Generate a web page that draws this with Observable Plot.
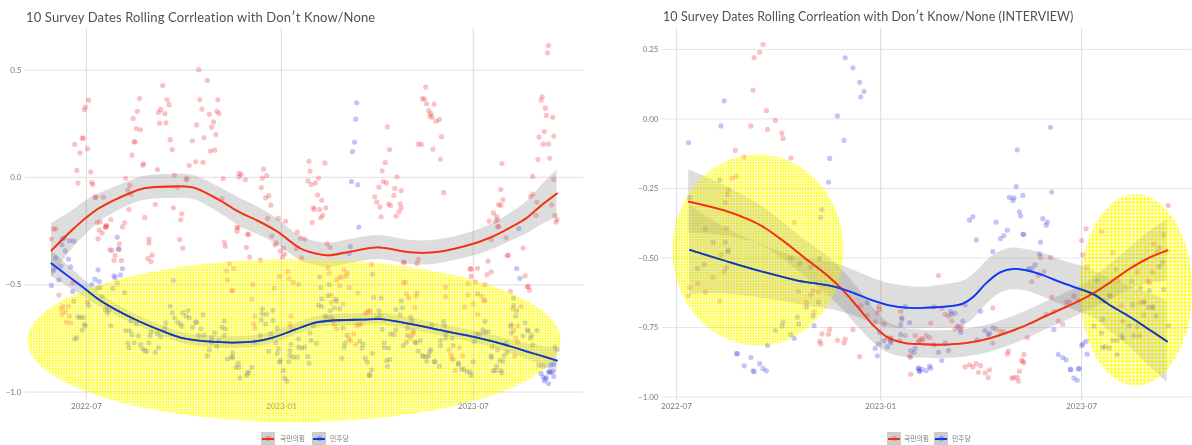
<!DOCTYPE html>
<html><head><meta charset="utf-8">
<script src="https://cdn.jsdelivr.net/npm/d3@7"></script>
<script src="https://cdn.jsdelivr.net/npm/@observablehq/plot@0.6"></script>
<style>
html,body{margin:0;padding:0;background:#fff;width:1192px;height:445px;overflow:hidden}
.panel{position:absolute;top:0}
.title{position:absolute;top:9px;font:400 13px Lato,"Noto Sans",sans-serif;color:#505050;white-space:nowrap;letter-spacing:.15px}
.title.r{font-size:12.5px;letter-spacing:.08px}
.sw{position:absolute;top:432px;width:14px;height:13px;background:#ccc}
.sw i{position:absolute;left:1px;right:1px;top:5.5px;height:2px}
.sw b{position:absolute;left:4.5px;top:4px;width:5px;height:5px;border-radius:50%;opacity:.35}
.lab{position:absolute;top:432px;font:6.8px "Noto Sans CJK KR",sans-serif;color:#777;line-height:13px}
</style></head><body>
<div id="left" class="panel" style="left:0"></div>
<div id="right" class="panel" style="left:596px"></div>
<script>
// Days since 2022-07-01, correlation
const leftRedPoints=[[-11,.154],[-4,.183],[-3,.183],[-6,.115],[1,.134],[-9,.033],[4,.025],[-8,-.026],[5,-.023],[6,-.033],[8,-.092],[9,-.092],[16,-.092],[2,.36],[-1,.328],[-2,.315],[10,-.21],[13,-.207],[19,-.222],[18,-.231],[23,-.196],[36,-.211],[34,-.231],[40,-.149],[55,-.186],[37,-.003],[41,-.037],[39,-.06],[42,-.078],[43,.104],[45,.166],[46,.166],[53,.057],[54,.064],[47,.228],[51,.222],[44,.275],[48,.308],[50,.368],[67,.037],[65,-.126],[82,-.141],[90,-.169],[89,-.197],[68,.303],[70,.317],[74,.297],[69,.253],[75,.255],[72,.429],[76,.362],[78,.339],[79,.176],[81,.13],[83,.011],[86,-.045],[94,-.009],[95,-.006],[97,.056],[100,.171],[103,.073],[110,.071],[104,.245],[106,.502],[107,.363],[109,.318],[114,.452],[111,.186],[116,.295],[118,.235],[120,.259],[122,.2],[117,.123],[121,.127],[123,.308],[124,.362],[125,.298],[129,-.005],[128,-.098],[142,-.233],[144,.002],[144,.019],[146,.014],[150,-.011],[167,.039],[170,.009],[166,-.003],[165,-.047],[169,-.095],[172,-.085],[174,-.129],[171,-.191],[181,-.191],[188,-.203],
[210,.075],[211,.03],[209,-.016],[212,-.033],[216,-.026],[219,-.003],[225,.068],[218,-.082],[222,-.106],[214,-.141],[215,-.149],[220,-.149],[226,-.141],[223,-.176],[221,-.188],[213,-.21],[284,.236],[286,.13],[282,.07],[279,.031],[293,.003],[280,-.019],[283,-.025],[276,-.045],[291,-.051],[297,-.061],[290,-.084],[272,-.09],[274,-.115],[277,-.137],[285,-.124],[287,-.13],[296,-.123],[297,-.141],[295,-.16],[292,-.18],[278,-.183],[320,.421],[317,.367],[319,.365],[321,.343],[328,.342],[323,.311],[325,.298],[324,.286],[326,.281],[330,.262],[333,.27],[335,.19],[313,.155],[316,.154],[327,.132],[334,.085],[337,-.071],[392,.065],[391,-.056],[393,-.104],[389,-.126],[391,-.13],[384,-.165],[387,-.182],[388,-.196],[386,-.203],[380,-.203],[389,-.228],[436,.615],[435,.581],[430,.376],[429,.36],[433,.323],[434,.289],[440,.28],[432,.214],[427,.188],[441,.193],[431,.155],[436,.155],[437,.089],[426,.084],[421,.005],[441,-.009],[421,-.078],[419,-.089],[425,-.115],[439,-.127],[424,-.176],[442,-.177],[444,-.196],[443,-.208],
[-31,-.241],[-29,-.239],[-33,-.287],[12,-.245],[15,-.259],[11,-.286],[18,-.231],[19,-.228],[22,-.337],[24,-.34],[27,-.364],[26,-.387],[31,-.309],[31,-.335],[33,-.387],[59,-.287],[59,-.306],[62,-.362],[58,-.378],[61,-.392],[88,-.289],[91,-.329],[130,-.301],[131,-.32],[151,-.326],[142,-.25],[143,-.233],[152,-.264],[153,-.266],[154,-.371],[164,-.385],[175,-.273],[178,-.314],[179,-.306],[186,-.329],[183,-.343],[187,-.357],[185,-.371],[198,-.332],[199,-.255],[-13,-.491],[29,-.492],[-26,-.548],[135,-.402],[132,-.435],[139,-.424],[133,-.477],[137,-.527],[138,-.527],[157,-.499],[177,-.516],[156,-.567],[182,-.461],[190,-.44],[191,-.472],[195,-.489],[200,-.499],[-24,-.612],[-22,-.6],[-17,-.6],[-20,-.624],[-23,-.637],[-16,-.646],[-19,-.674],[-15,-.677],[159,-.646],[158,-.682],[159,-.702],[193,-.646],[192,-.682],[193,-.698],
[206,-.287],[203,-.374],[202,-.283],[227,-.309],[230,-.326],[299,-.395],[300,-.395],[313,-.382],[312,-.401],[382,-.289],[396,-.281],[388,-.23],[362,-.426],[363,-.426],[369,-.423],[379,-.39],[382,-.44],[378,-.453],[363,-.461],[397,-.363],[398,-.363],[412,-.329],[414,-.458],[416,-.508],[417,-.508],[418,-.525],[400,-.53],[360,-.493],[367,-.488],[376,-.5],[339,-.511],[360,-.547],[339,-.555],[373,-.553],[375,-.573],[376,-.573],[357,-.603],[365,-.589],[369,-.637],[402,-.612],[410,-.601],[407,-.691],[403,-.71],[405,-.747],[407,-.767],[404,-.831],[228,-.421],[229,-.445],[243,-.43],[246,-.445],[245,-.46],[241,-.464],[239,-.466],[236,-.477],[239,-.505],[248,-.513],[231,-.548],[256,-.538],[231,-.583],[242,-.59],[269,-.406],[299,-.491],[301,-.488],[302,-.542],[304,-.56],[311,-.553],[312,-.538],[310,-.606],[263,-.634],[266,-.62],[268,-.623],[265,-.627],[233,-.667],[234,-.685],[236,-.705],[255,-.69],[257,-.686],[259,-.684],[252,-.728],[248,-.752],[249,-.761],[254,-.777],[308,-.713],[309,-.724],[307,-.732],[306,-.749],[342,-.803],[344,-.825],[345,-.842],[346,-.848],[348,-.898],[352,-.792],[355,-.83]];
const leftBluePoints=[[255,.348],[254,.272],[253,.165],[251,.12],[250,-.019],[256,-.034],[257,-.231],[408,-.238],[-23,-.314],[-21,-.282],[-23,-.286],[-16,-.295],[-12,-.297],[-20,-.342],[-17,-.38],[-29,-.374],[-24,-.413],[-15,-.416],[-31,-.432],[-26,-.478],[-33,-.503],[-13,-.531],[29,-.278],[30,-.333],[11,-.43],[34,-.424],[32,-.454],[26,-.458],[27,-.467],[8,-.474],[12,-.485],[5,-.499],[10,-.517],[13,-.513],[25,-.517],[36,-.536],[82,-.48],[15,-.555],[-12,-.576],[1,-.581],[2,-.597],[20,-.601],[18,-.617],[21,-.62],[20,-.632],[-8,-.649],[-6,-.652],[-3,-.652],[-2,-.685],[-1,-.69],[-4,-.71],[-9,-.747],[-11,-.752],[23,-.691],[42,-.669],[47,-.682],[37,-.713],[41,-.714],[43,-.733],[49,-.738],[39,-.772],[40,-.792],[45,-.77],[51,-.779],[53,-.798],[55,-.807],[57,-.81],[59,-.77],[65,-.815],[68,-.792],[61,-.72],[60,-.738],[67,-.728],[70,-.742],[74,-.702],[75,-.677],[79,-.6],[81,-.629],[83,-.654],[86,-.674],[89,-.682],[90,-.693],[91,-.63],[96,-.62],[94,-.646],[97,-.654],[100,-.698],[103,-.674],[104,-.674],[110,-.639],[108,-.705],[111,-.736],[106,-.736],[118,-.747],[121,-.724],[128,-.698],[131,-.705],[130,-.669],[130,-.736],[125,-.76],[123,-.786],[118,-.767],[116,-.803],[114,-.83],[133,-.845],[137,-.837],[138,-.817],[138,-.837],[143,-.865],[141,-.884],[144,-.884],[145,-.934],[151,-.923],[152,-.912],[153,-.907],[156,-.884],[159,-.767],[164,-.736],[174,-.728],[166,-.612],[166,-.635],[170,-.637],[165,-.663],[169,-.682],[176,-.62],[176,-.666],[180,-.702],[179,-.77],[181,-.798],[180,-.819],[172,-.81],[183,-.853],[182,-.861],[186,-.899],[187,-.934],[189,-.949],[191,-.858],[193,-.778],[192,-.806],[192,-.83],[195,-.837],[199,-.837],[200,-.752],[200,-.79],
[249,-.322],[248,-.354],[406,-.424],[409,-.47],[220,-.463],[221,-.513],[229,-.499],[222,-.565],[228,-.55],[235,-.567],[236,-.576],[219,-.595],[222,-.601],[234,-.607],[239,-.612],[230,-.621],[225,-.646],[227,-.652],[231,-.652],[214,-.69],[211,-.724],[212,-.76],[217,-.772],[206,-.79],[203,-.795],[209,-.834],[210,-.865],[242,-.701],[246,-.736],[244,-.772],[243,-.79],[258,-.763],[261,-.777],[260,-.795],[270,-.819],[241,-.842],[263,-.842],[265,-.86],[269,-.896],[267,-.92],[267,-.921],[270,-.45],[271,-.558],[278,-.561],[276,-.62],[277,-.643],[274,-.655],[279,-.708],[281,-.77],[281,-.792],[285,-.795],[283,-.853],[284,-.88],[286,-.848],[287,-.728],[290,-.732],[292,-.71],[292,-.615],[296,-.64],[298,-.607],[297,-.575],[303,-.702],[306,-.651],[307,-.667],[303,-.736],[302,-.767],[299,-.783],[310,-.767],[311,-.77],[315,-.76],[313,-.808],[317,-.83],[318,-.834],[321,-.834],[323,-.83],[324,-.811],[325,-.802],[321,-.856],[328,-.858],[329,-.858],[333,-.88],[334,-.783],[334,-.76],[339,-.749],[345,-.749],[346,-.783],[337,-.67],[338,-.69],[326,-.687],[339,-.729],[351,-.865],[351,-.871],[354,-.893],[356,-.893],[359,-.904],[362,-.907],[363,-.922],[365,-.859],[366,-.765],[368,-.729],[371,-.73],[374,-.71],[376,-.722],[379,-.718],[376,-.67],[369,-.542],[403,-.562],[406,-.621],[405,-.646],[403,-.597],[401,-.685],[400,-.693],[401,-.725],[382,-.83],[382,-.839],[383,-.789],[388,-.803],[390,-.853],[393,-.856],[387,-.879],[384,-.9],[386,-.9],[391,-.9],[392,-.91],[394,-.83],[396,-.77],[397,-.814],[414,-.677],[416,-.71],[417,-.715],[412,-.739],[419,-.749],[420,-.736],[425,-.713],[421,-.781],[427,-.876],[431,-.879],[429,-.913],[431,-.93],[433,-.938],[434,-.934],[432,-.948],[436,-.96],[437,-.904],[436,-.907],[438,-.909],[440,-.904],[441,-.927],[438,-.873],[441,-.87],[442,-.79],[444,-.802]];
const rightRedPoints=[[78,.268],[75,.24],[70,.221],[69,.103],[81,.03],[89,-.005],[67,-.025],[82,-.037],[95,-.051],[96,-.07],[53,-.113],[61,-.137],[103,-.14],[54,-.207],[50,-.213],[47,-.254],[46,-.272],[44,-.3],[45,-.393],[106,-.372],[40,-.488],[33,-.569],[43,-.549],[12,-.606],[19,-.592],[26,-.623],[11,-.635],[39,-.655],[110,-.62],[123,-.617],[128,-.621],[121,-.633],[117,-.66],[124,-.694],[138,-.757],[131,-.773],[137,-.774],[129,-.799],[130,-.809],[145,-.796],[152,-.792],[151,-.806],[159,-.758],[165,-.855],[182,-.675],[183,-.685],[181,-.698],[166,-.671],[172,-.706],[179,-.731],[187,-.738],[190,-.788],[193,-.791],[193,-.787],[201,-.797],[206,-.779],[202,-.692],[203,-.721],[215,-.779],[218,-.8],[219,-.797],[210,-.853],[211,-.918],
[236,-.563],[232,-.675],[239,-.68],[242,-.703],[245,-.709],[248,-.726],[229,-.734],[225,-.779],[228,-.786],[221,-.79],[222,-.794],[211,-.857],[251,-.755],[257,-.747],[256,-.757],[253,-.745],[260,-.892],[264,-.884],[267,-.892],[270,-.88],[274,-.887],[272,-.911],[278,-.913],[282,-.902],[281,-.93],[285,-.68],[288,-.755],[292,-.764],[295,-.767],[285,-.806],[298,-.845],[299,-.835],[313,-.847],[311,-.869],[313,-.877],[312,-.871],[309,-.907],[302,-.932],[304,-.93],[307,-.929],[308,-.943],[316,-.786],[320,-.585],[326,-.563],[331,-.549],[328,-.497],[337,-.498],[338,-.641],[333,-.702],[340,-.692],[344,-.726],[348,-.738],[351,-.659],[354,-.659],[358,-.637],[362,-.653],[365,-.437],[366,-.489],[369,-.395],[370,-.533],[383,-.405],[393,-.481],[396,-.541],[398,-.581],[410,-.583],[415,-.551],[413,-.527],[430,-.45],[433,-.479],[435,-.463],[439,-.416],[429,-.551],[425,-.581],[426,-.589],[417,-.661],[421,-.659],[401,-.671],[402,-.727],[421,-.705],[415,-.747],[391,-.635],[385,-.656],[442,-.474],[443,-.311]];
const rightBluePoints=[[11,-.085],[40,-.025],[43,.065],[152,.22],[159,.184],[165,.132],[169,.099],[166,.08],[145,.011],[151,-.077],[138,-.142],[137,-.227],[39,-.219],[12,-.282],[131,-.326],[130,-.354],[26,-.396],[44,-.443],[33,-.444],[47,-.471],[46,-.478],[45,-.535],[25,-.523],[19,-.538],[103,-.501],[129,-.502],[121,-.533],[111,-.521],[128,-.659],[117,-.677],[109,-.713],[123,-.709],[96,-.731],[95,-.745],[110,-.737],[89,-.761],[103,-.776],[106,-.789],[82,-.814],[124,-.743],[54,-.844],[55,-.844],[67,-.858],[75,-.88],[61,-.888],[78,-.898],[81,-.906],[69,-.906],[70,-.909],[172,-.66],[183,-.767],[187,-.798],[182,-.809],[179,-.825],[181,-.852],[190,-.82],[193,-.805],[193,-.799],[202,-.775],[202,-.74],[203,-.715],[210,-.732],[206,-.675],[215,-.825],[211,-.834],[214,-.84],[218,-.898],[219,-.908],
[337,-.03],[307,-.111],[306,-.243],[338,-.263],[312,-.275],[300,-.282],[304,-.284],[303,-.293],[309,-.334],[310,-.349],[267,-.352],[264,-.364],[288,-.371],[330,-.358],[334,-.371],[333,-.382],[298,-.4],[295,-.419],[292,-.43],[270,-.435],[312,-.415],[313,-.415],[328,-.443],[285,-.477],[327,-.485],[323,-.525],[317,-.539],[320,-.537],[260,-.669],[274,-.692],[247,-.693],[248,-.702],[251,-.699],[258,-.727],[254,-.749],[256,-.767],[278,-.761],[282,-.771],[281,-.777],[285,-.751],[271,-.794],[242,-.806],[232,-.812],[236,-.839],[245,-.833],[239,-.869],[218,-.896],[219,-.906],[221,-.901],[225,-.905],[228,-.889],[229,-.896],[340,-.758],[344,-.847],[348,-.858],[351,-.866],[355,-.9],[355,-.902],[362,-.899],[363,-.898],[358,-.932],[361,-.94],[365,-.815],[366,-.809],[369,-.8],[370,-.846],[376,-.745],[384,-.721],[383,-.77],[384,-.822],[386,-.819],[390,-.824],[397,-.847],[393,-.796],[397,-.797],[401,-.779],[402,-.788],[408,-.744],[411,-.668],[412,-.779],[417,-.78],[426,-.617],[418,-.607],[425,-.677],[429,-.675],[429,-.679],[432,-.708],[443,-.744],[439,-.613],[435,-.531],[438,-.515],[379,-.581],[390,-.635],[421,-.659]];

// Smooth fits: [day, fit, half width of the confidence band]
const leftRedFit=[[-33,-.34,.126],[-14,-.247,.09],[0,-.186,.079],[13,-.14,.065],[40,-.075,.056],[54,-.051,.056],[82,-.042,.056],[101,-.047,.056],[126,-.107,.06],[145,-.163,.065],[161,-.2,.065],[180,-.252,.06],[202,-.331,.056],[216,-.354,.056],[228,-.363,.056],[249,-.345,.056],[275,-.326,.056],[306,-.349,.056],[327,-.349,.056],[359,-.317,.056],[381,-.28,.06],[400,-.233,.065],[416,-.186,.075],[428,-.135,.09],[444,-.075,.11]];
const leftBlueFit=[[-33,-.401,.06],[-3,-.513,.04],[13,-.573,.03],[44,-.657,.025],[73,-.718,.025],[92,-.75,.025],[114,-.764,.027],[139,-.769,.027],[159,-.764,.027],[176,-.746,.027],[192,-.718,.027],[202,-.699,.027],[216,-.676,.027],[233,-.666,.027],[261,-.662,.027],[277,-.66,.027],[299,-.676,.027],[327,-.704,.027],[359,-.736,.027],[391,-.774,.03],[422,-.82,.04],[444,-.853,.06]];
const rightRedFit=[[11,-.297,.114],[43,-.329,.09],[67,-.365,.075],[79,-.39,.07],[94,-.432,.067],[115,-.498,.065],[136,-.563,.07],[151,-.62,.07],[163,-.675,.07],[178,-.745,.062],[190,-.785,.055],[205,-.805,.052],[220,-.81,.05],[235,-.812,.05],[262,-.805,.05],[283,-.788,.05],[301,-.764,.05],[316,-.74,.05],[331,-.712,.05],[346,-.685,.05],[364,-.652,.05],[376,-.626,.055],[391,-.587,.065],[409,-.537,.075],[427,-.497,.095],[442,-.473,.11]];
const rightBlueFit=[[12,-.471,.16],[43,-.509,.12],[79,-.551,.095],[109,-.581,.085],[142,-.603,.085],[157,-.622,.082],[175,-.65,.08],[193,-.671,.078],[217,-.68,.075],[229,-.678,.075],[247,-.673,.08],[258,-.664,.08],[267,-.641,.08],[280,-.587,.078],[292,-.551,.075],[304,-.539,.075],[316,-.545,.075],[331,-.563,.078],[346,-.587,.08],[366,-.615,.084],[376,-.631,.085],[391,-.671,.095],[409,-.713,.11],[425,-.755,.13],[442,-.8,.147]];

const partyRed="국민의힘", partyBlue="민주당";
const redLine="#f5300f", blueLine="#1238f5", redDot="#f0474d", blueDot="#4a4fe8";
const xTicks=["2022-07-01","2023-01-01","2023-07-01"];
const leftYTicks=[0.5,0,-0.5,-1];
const rightYTicks=[0.25,0,-0.25,-0.5,-0.75,-1];
const titles=["10 Survey Dates Rolling Corrleation with Don\u2032t Know/None","10 Survey Dates Rolling Corrleation with Don\u2032t Know/None (INTERVIEW)"];

const day0=Date.UTC(2022,6,1);
const toDate=d=>new Date(day0+d*864e5);
const fmt=d3.utcFormat("%Y-%m");
const pts=a=>a.map(([d,v])=>({x:toDate(d),y:v}));
const fit=a=>a.map(([d,v,h])=>({x:toDate(d),y:v,lo:v-h,hi:v+h}));

function ellipseSymbol(rx,ry){
  const k=.5523;
  return {draw(c){
    c.moveTo(-rx,0);
    c.bezierCurveTo(-rx,-k*ry,-k*rx,-ry,0,-ry);
    c.bezierCurveTo(k*rx,-ry,rx,-k*ry,rx,0);
    c.bezierCurveTo(rx,k*ry,k*rx,ry,0,ry);
    c.bezierCurveTo(-k*rx,ry,-rx,k*ry,-rx,0);
    c.closePath();
  }};
}
function defs(){
  const d=d3.create("svg:defs");
  d.html(`<pattern id="hatchA" width="2.75" height="2.75" patternUnits="userSpaceOnUse"><rect width="2.75" height="2.75" fill="#ffffd8"/><rect width="1.75" height="1.75" fill="#ffff10"/></pattern>
  <pattern id="hatchB" width="3.7" height="3.7" patternUnits="userSpaceOnUse"><rect width="3.7" height="3.7" fill="#fffff4"/><rect width="2.6" height="2.6" fill="#ffff10"/></pattern>`);
  return d.node();
}
function panel(opts){
  const {width,marginLeft,marginRight,xDomain,yDomain,yTicks,yFormat,red,blue,redFitD,blueFitD,ellipses,pad}=opts;
  const ticks=xTicks.map(s=>new Date(s));
  const curve="catmull-rom";
  const ellipseMark=(e,o)=>Plot.dot([{x:toDate(e.day),y:e.value}],{x:"x",y:"y",r:1,symbol:ellipseSymbol(e.rx,e.ry),stroke:"none",...o});
  return Plot.plot({
    width,height:445,marginLeft,marginRight,marginTop:28,marginBottom:45,
    style:{background:"transparent",overflow:"visible"},
    x:{type:"utc",domain:xDomain.map(toDate)},
    y:{domain:yDomain},
    marks:[
      defs,
      Plot.gridY(yTicks,{stroke:"#e6e6e6",strokeOpacity:1,strokeWidth:1.2}),
      Plot.gridX(ticks,{stroke:"#e0e0e0",strokeOpacity:1,strokeWidth:1.2}),
      Plot.axisX({ticks,tickFormat:fmt,tickSize:0,tickPadding:3,fontSize:8,color:"#7a7a7a",label:null,fontFamily:"Lato, sans-serif"}),
      Plot.axisY({ticks:yTicks,tickFormat:yFormat,tickSize:0,tickPadding:pad,fontSize:8,color:"#7a7a7a",label:null,fontFamily:"Lato, sans-serif"}),
      Plot.dot(pts(red),{x:"x",y:"y",r:2.6,fill:redDot,fillOpacity:.33,stroke:"none"}),
      Plot.dot(pts(blue),{x:"x",y:"y",r:2.6,fill:blueDot,fillOpacity:.33,stroke:"none"}),
      Plot.areaY(fit(redFitD),{x:"x",y1:"lo",y2:"hi",curve,fill:"#777",fillOpacity:.25}),
      Plot.areaY(fit(blueFitD),{x:"x",y1:"lo",y2:"hi",curve,fill:"#777",fillOpacity:.25}),
      ...ellipses.map(e=>ellipseMark(e,{fill:"white",fillOpacity:.35})),
      Plot.lineY(fit(redFitD),{x:"x",y:"y",curve,stroke:redLine,strokeWidth:1.8}),
      Plot.lineY(fit(blueFitD),{x:"x",y:"y",curve,stroke:blueLine,strokeWidth:1.8}),
      ...ellipses.map(e=>ellipseMark(e,{fill:`url(#${e.pattern})`,mixBlendMode:"multiply"})),
      Plot.lineY(fit(redFitD),{x:"x",y:"y",curve,stroke:redLine,strokeWidth:1.8,strokeOpacity:.5}),
      Plot.lineY(fit(blueFitD),{x:"x",y:"y",curve,stroke:blueLine,strokeWidth:1.8,strokeOpacity:.5})
    ]
  });
}
document.getElementById("left").append(panel({
  width:595,marginLeft:25,marginRight:12,pad:4,xDomain:[-57.5,469],yDomain:[-1.039,.694],yTicks:leftYTicks,yFormat:d3.format(".1f"),
  red:leftRedPoints,blue:leftBluePoints,redFitD:leftRedFit,blueFitD:leftBlueFit,
  ellipses:[{day:196,value:-.76,rx:266.5,ry:81.5,pattern:"hatchA"}]
}));
document.getElementById("right").append(panel({
  width:596,marginLeft:66,marginRight:1,pad:4,xDomain:[-12.6,464],yDomain:[-1.0126,.3255],yTicks:rightYTicks,yFormat:d3.format(".2f"),
  red:rightRedPoints,blue:rightBluePoints,redFitD:rightRedFit,blueFitD:rightBlueFit,
  ellipses:[{day:73.4,value:-.471,rx:85.5,ry:95.5,pattern:"hatchA"},{day:414,value:-.615,rx:56,ry:95.5,pattern:"hatchB"}]
}));
function addText(cls,left,text){const e=document.createElement("div");e.className=cls;e.style.left=left+"px";e.textContent=text;document.body.append(e);}
addText("title",26,titles[0]);
addText("title r",663,titles[1]);
function swatch(left,color){
  const s=document.createElement("div");s.className="sw";s.style.left=left+"px";
  s.innerHTML=`<b style="background:${color}"></b><i style="background:${color}"></i>`;
  document.body.append(s);
}
[[261,280,312,330],[887,904,934,952]].forEach(([a,b,c,d])=>{
  swatch(a,redLine);addText("lab",b,partyRed);swatch(c,blueLine);addText("lab",d,partyBlue);
});
</script></body></html>
